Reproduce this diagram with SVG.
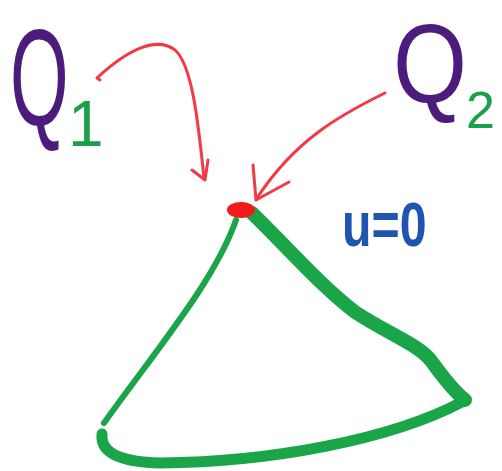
<svg xmlns="http://www.w3.org/2000/svg" width="502" height="471" viewBox="0 0 502 471">
<style>
.q{font-family:"Liberation Sans",sans-serif;fill:#4b1c7c}
.sub{font-family:"Liberation Sans",sans-serif;fill:#1aa04a}
.lbl{font-family:"Liberation Sans",sans-serif;font-weight:bold;fill:#1f55b0}
.red{fill:none;stroke:#f23a45;stroke-width:3;stroke-linecap:round;stroke-linejoin:round}
.grn{fill:none;stroke:#1aa548;stroke-linecap:round;stroke-linejoin:round}
</style>
<rect width="502" height="471" fill="#ffffff"/>
<g id="q1">
<text class="q" transform="translate(10,125) scale(0.55,1)" font-size="137">Q</text>
<text class="sub" x="68" y="146" font-size="64">1</text>
</g>
<g id="q2">
<text class="q" transform="translate(393,102) scale(0.85,1)" font-size="112">Q</text>
<text class="sub" x="466" y="128" font-size="52">2</text>
</g>
<g id="label">
<text class="lbl" transform="translate(342,246) scale(1.05,1.35)" font-size="46">u=0</text>
</g>
<g id="triangle">
<path class="grn" stroke-width="6" d="M236,220 C215,280 160,345 104,423"/>
<path class="grn" stroke-width="11" d="M102,434 C100,455 125,462 160,463 C270,462 390,440 462,402"/>
<path class="grn" stroke-width="14" d="M252,213 C290,250 320,285 355,312 C390,335 420,345 432,362 C445,380 455,392 465,400"/>
</g>
<g id="connectors">
<path class="red" d="M100,80 L97,78 C125,52 155,35 175,50 C192,65 198,120 204,178"/>
<path class="red" d="M192,170 L205,180 L208,160"/>
<path class="red" d="M385,93 C340,115 295,140 257,198"/>
<path class="red" d="M253,165 L256,200 L289,182"/>
</g>
<g id="point">
<ellipse cx="241" cy="210" rx="14" ry="8" fill="#f01c1c"/>
</g>
</svg>
